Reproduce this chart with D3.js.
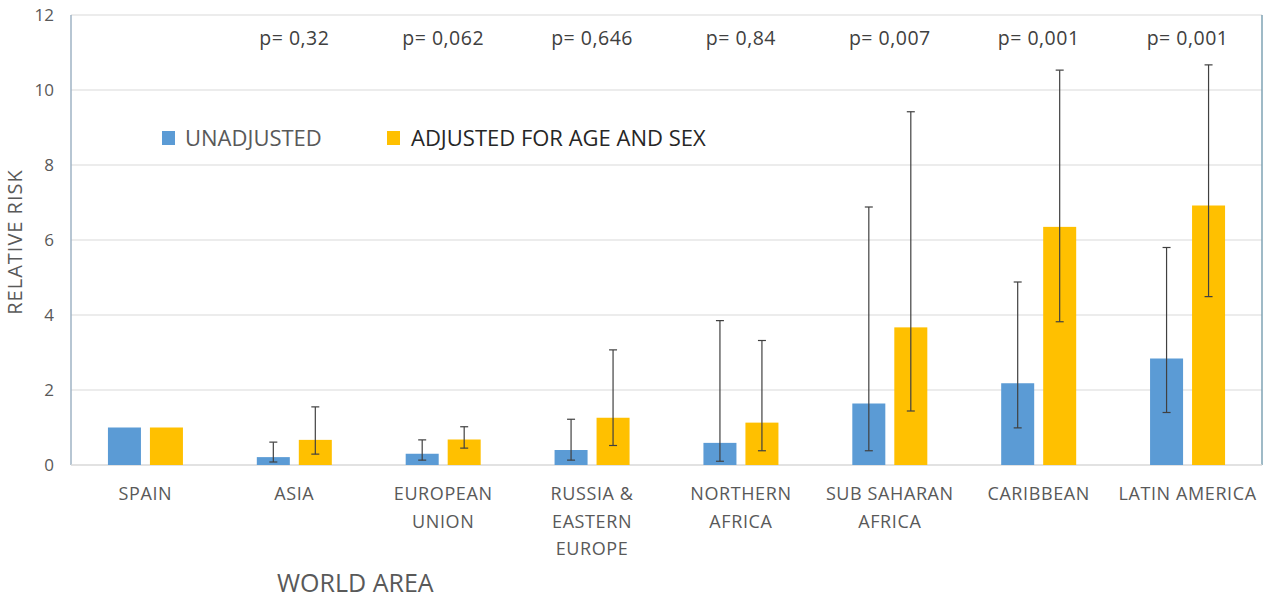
<!DOCTYPE html>
<html>
<head>
<meta charset="utf-8">
<script src="https://cdn.jsdelivr.net/npm/d3@7"></script>
<style>
  html, body { margin: 0; padding: 0; background: #fff; }
  svg { display: block; font-family: "Open Sans", "Noto Sans", sans-serif; }
</style>
</head>
<body>
<svg id="chart" width="1280" height="602"></svg>
<script>
// ---- data ----
const categories = ["SPAIN", "ASIA", "EUROPEAN UNION", "RUSSIA & EASTERN EUROPE", "NORTHERN AFRICA", "SUB SAHARAN AFRICA", "CARIBBEAN", "LATIN AMERICA"];
const categoryLines = [["SPAIN"], ["ASIA"], ["EUROPEAN", "UNION"], ["RUSSIA &", "EASTERN", "EUROPE"], ["NORTHERN", "AFRICA"], ["SUB SAHARAN", "AFRICA"], ["CARIBBEAN"], ["LATIN AMERICA"]];
const seriesNames = ["UNADJUSTED", "ADJUSTED FOR AGE AND SEX"];
const unadjusted      = [1.00, 0.21, 0.30, 0.40, 0.59, 1.64, 2.18, 2.84];
const unadjustedLow   = [null, 0.08, 0.13, 0.13, 0.10, 0.38, 0.99, 1.40];
const unadjustedHigh  = [null, 0.61, 0.67, 1.22, 3.85, 6.88, 4.88, 5.80];
const adjusted        = [1.00, 0.67, 0.68, 1.26, 1.13, 3.67, 6.35, 6.92];
const adjustedLow     = [null, 0.29, 0.45, 0.52, 0.38, 1.44, 3.82, 4.49];
const adjustedHigh    = [null, 1.55, 1.02, 3.07, 3.32, 9.42, 10.53, 10.67];
const pValues = [null, "p= 0,32", "p= 0,062", "p= 0,646", "p= 0,84", "p= 0,007", "p= 0,001", "p= 0,001"];
const yTicks = [0, 2, 4, 6, 8, 10, 12];
const colors = ["#5b9bd5", "#ffc000"];

// ---- layout ----
const svg = d3.select("#chart");
const plotLeft = 71, plotRight = 1262, plotTop = 15, plotBottom = 465;

const x0 = d3.scaleBand().domain(categories).range([plotLeft, plotRight]).padding(0);
const x1 = d3.scaleBand().domain(seriesNames).range([0, 75]).paddingInner(0.214).paddingOuter(0);
const y = d3.scaleLinear().domain([0, 12]).range([plotBottom, plotTop]);

// gridlines
svg.append("g").selectAll("line").data(yTicks.filter(t => t > 0)).join("line")
  .attr("x1", plotLeft).attr("x2", plotRight)
  .attr("y1", d => y(d)).attr("y2", d => y(d))
  .attr("stroke", "#d9d9d9").attr("stroke-width", 1);

// y axis
const yAxis = d3.axisLeft(y).tickValues(yTicks).tickSize(0).tickPadding(17);
const gy = svg.append("g").attr("transform", `translate(${plotLeft},0)`).call(yAxis);
gy.select(".domain").remove();
gy.selectAll("text").attr("font-size", 17).attr("fill", "#595959")
  .attr("font-family", "'Open Sans', sans-serif");

// axis lines
svg.append("line").attr("x1", plotLeft).attr("x2", plotLeft).attr("y1", plotTop).attr("y2", plotBottom)
  .attr("stroke", "#9fb3c4").attr("stroke-width", 1.5);
svg.append("line").attr("x1", plotRight).attr("x2", plotRight).attr("y1", plotTop).attr("y2", plotBottom)
  .attr("stroke", "#7fa3b5").attr("stroke-width", 1.5);
svg.append("line").attr("x1", plotLeft).attr("x2", plotRight).attr("y1", plotBottom).attr("y2", plotBottom)
  .attr("stroke", "#d9d9d9").attr("stroke-width", 1.5);

// bars
const rows = categories.map((c, i) => ({
  cat: c,
  vals: [
    { s: seriesNames[0], v: unadjusted[i], lo: unadjustedLow[i], hi: unadjustedHigh[i], k: 0 },
    { s: seriesNames[1], v: adjusted[i], lo: adjustedLow[i], hi: adjustedHigh[i], k: 1 }
  ]
}));

const groups = svg.append("g").selectAll("g").data(rows).join("g")
  .attr("transform", d => `translate(${x0(d.cat) + x0.bandwidth() / 2 - 37.5},0)`);

groups.selectAll("rect").data(d => d.vals).join("rect")
  .attr("x", d => x1(d.s))
  .attr("width", x1.bandwidth())
  .attr("y", d => y(d.v))
  .attr("height", d => y(0) - y(d.v))
  .attr("fill", d => colors[d.k]);

// error bars
const eb = groups.selectAll("g.err").data(d => d.vals.filter(v => v.lo != null)).join("g").attr("class", "err")
  .attr("stroke", "#404040").attr("stroke-width", 1.2);
eb.append("line")
  .attr("x1", d => x1(d.s) + x1.bandwidth() / 2).attr("x2", d => x1(d.s) + x1.bandwidth() / 2)
  .attr("y1", d => y(d.lo)).attr("y2", d => y(d.hi));
eb.append("line")
  .attr("x1", d => x1(d.s) + x1.bandwidth() / 2 - 4).attr("x2", d => x1(d.s) + x1.bandwidth() / 2 + 4)
  .attr("y1", d => y(d.hi)).attr("y2", d => y(d.hi));
eb.append("line")
  .attr("x1", d => x1(d.s) + x1.bandwidth() / 2 - 4).attr("x2", d => x1(d.s) + x1.bandwidth() / 2 + 4)
  .attr("y1", d => y(d.lo)).attr("y2", d => y(d.lo));

// category labels
const cl = svg.append("g").selectAll("text").data(categories).join("text")
  .attr("x", d => x0(d) + x0.bandwidth() / 2)
  .attr("y", 500)
  .attr("text-anchor", "middle")
  .attr("font-size", 18)
  .attr("letter-spacing", 0.6)
  .attr("fill", "#595959");
cl.selectAll("tspan").data((d, i) => categoryLines[i]).join("tspan")
  .attr("x", function () { return this.parentNode.getAttribute("x"); })
  .attr("dy", (d, j) => j === 0 ? 0 : 27.5)
  .text(d => d);

// p-values
svg.append("g").selectAll("text").data(categories).join("text")
  .attr("x", d => x0(d) + x0.bandwidth() / 2)
  .attr("y", 45)
  .attr("text-anchor", "middle")
  .attr("font-size", 19.5)
  .attr("letter-spacing", 0.5)
  .attr("fill", "#404040")
  .text((d, i) => pValues[i] || "");

// y axis title
svg.append("text")
  .attr("transform", "translate(22,242) rotate(-90)")
  .attr("text-anchor", "middle")
  .attr("font-size", 20)
  .attr("letter-spacing", 1)
  .attr("fill", "#595959")
  .text("RELATIVE RISK");

// x axis title
svg.append("text")
  .attr("x", 277).attr("y", 592)
  .attr("font-size", 25)
  .attr("fill", "#595959")
  .text("WORLD AREA");

// legend
const legend = [
  { name: seriesNames[0], sx: 162, tx: 185, color: colors[0], tc: "#595959" },
  { name: seriesNames[1], sx: 387, tx: 411, color: colors[1], tc: "#262626" }
];
const lg = svg.append("g").selectAll("g").data(legend).join("g");
lg.append("rect").attr("x", d => d.sx).attr("y", 131).attr("width", 13).attr("height", 14)
  .attr("fill", d => d.color);
lg.append("text").attr("x", d => d.tx).attr("y", 146)
  .attr("font-size", 22).attr("fill", d => d.tc).text(d => d.name);
</script>
</body>
</html>
